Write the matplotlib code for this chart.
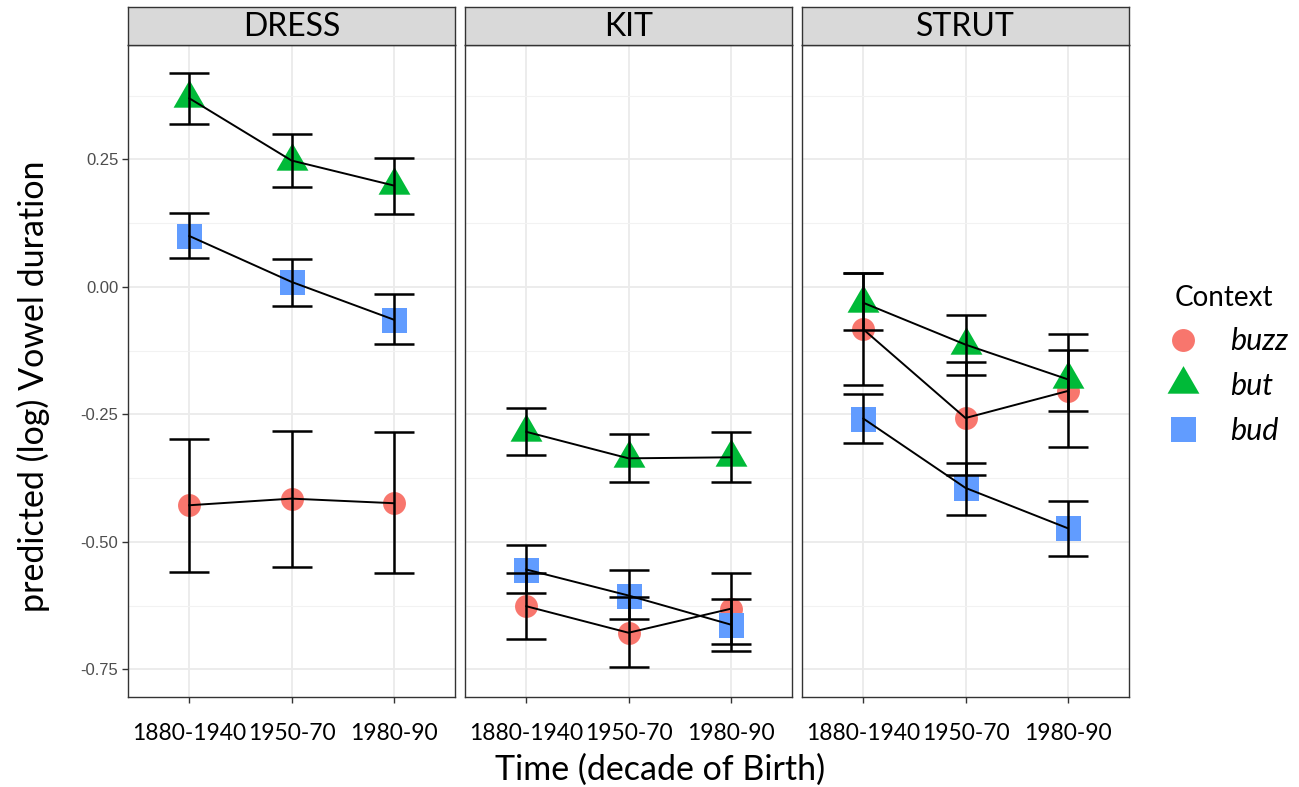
import matplotlib
matplotlib.use("Agg")
import matplotlib.pyplot as plt
from matplotlib.lines import Line2D
from matplotlib.ticker import FixedLocator

plt.rcParams["font.family"] = ["Lato", "DejaVu Sans"]

periods = ["1880-1940", "1950-70", "1980-90"]
vowels = ["DRESS", "KIT", "STRUT"]
contexts = ["buzz", "but", "bud"]

# predicted log duration, lower and upper CI per vowel / context
dress_buzz = [-0.428, -0.415, -0.424]
dress_buzz_lo = [-0.558, -0.549, -0.560]
dress_buzz_hi = [-0.298, -0.283, -0.285]
dress_but = [0.370, 0.248, 0.199]
dress_but_lo = [0.319, 0.197, 0.144]
dress_but_hi = [0.419, 0.300, 0.252]
dress_bud = [0.100, 0.010, -0.064]
dress_bud_lo = [0.057, -0.038, -0.111]
dress_bud_hi = [0.145, 0.055, -0.014]

kit_buzz = [-0.626, -0.678, -0.631]
kit_buzz_lo = [-0.691, -0.745, -0.701]
kit_buzz_hi = [-0.560, -0.608, -0.560]
kit_but = [-0.284, -0.336, -0.334]
kit_but_lo = [-0.330, -0.383, -0.383]
kit_but_hi = [-0.238, -0.288, -0.284]
kit_bud = [-0.554, -0.605, -0.662]
kit_bud_lo = [-0.601, -0.652, -0.714]
kit_bud_hi = [-0.505, -0.554, -0.611]

strut_buzz = [-0.083, -0.257, -0.204]
strut_buzz_lo = [-0.193, -0.368, -0.314]
strut_buzz_hi = [0.027, -0.147, -0.092]
strut_but = [-0.031, -0.113, -0.181]
strut_but_lo = [-0.085, -0.172, -0.243]
strut_but_hi = [0.027, -0.054, -0.124]
strut_bud = [-0.258, -0.394, -0.473]
strut_bud_lo = [-0.306, -0.448, -0.527]
strut_bud_hi = [-0.209, -0.345, -0.419]

panels = {
    "DRESS": {
        "buzz": (dress_buzz, dress_buzz_lo, dress_buzz_hi),
        "but": (dress_but, dress_but_lo, dress_but_hi),
        "bud": (dress_bud, dress_bud_lo, dress_bud_hi),
    },
    "KIT": {
        "buzz": (kit_buzz, kit_buzz_lo, kit_buzz_hi),
        "but": (kit_but, kit_but_lo, kit_but_hi),
        "bud": (kit_bud, kit_bud_lo, kit_bud_hi),
    },
    "STRUT": {
        "buzz": (strut_buzz, strut_buzz_lo, strut_buzz_hi),
        "but": (strut_but, strut_but_lo, strut_but_hi),
        "bud": (strut_bud, strut_bud_lo, strut_bud_hi),
    },
}

yticks = [0.25, 0.0, -0.25, -0.5, -0.75]
ytick_labels = ["0.25", "0.00", "-0.25", "-0.50", "-0.75"]
yminor = [0.375, 0.125, -0.125, -0.375, -0.625]

colors = {"buzz": "#F8766D", "but": "#00BA38", "bud": "#619CFF"}
tri = [(-1.0, -0.577), (1.0, -0.577), (0.0, 1.155), (-1.0, -0.577)]
markers = {"buzz": ("o", 16.5), "but": (tri, 26.5), "bud": ("s", 18)}

W, H = 1299, 787
fig = plt.figure(figsize=(W / 100, H / 100), dpi=100)

lefts = [128, 465, 802]
pw = 327
top, bottom = 45, 697
strip_top = 7

x = [1, 2, 3]
for i, vowel in enumerate(vowels):
    l = lefts[i]
    ax = fig.add_axes([l / W, 1 - bottom / H, pw / W, (bottom - top) / H])
    ax.set_xlim(0.4, 3.6)
    ax.set_ylim(-0.804, 0.4745)
    ax.set_facecolor("white")
    ax.yaxis.set_major_locator(FixedLocator(yticks))
    ax.yaxis.set_minor_locator(FixedLocator(yminor))
    ax.set_xticks(x)
    ax.set_xticklabels(periods, fontsize=16.5, color="black")
    ax.grid(True, which="major", color="#EBEBEB", lw=1.3, zorder=0)
    ax.grid(True, which="minor", axis="y", color="#F2F2F2", lw=0.8, zorder=0)
    ax.tick_params(axis="x", length=4, width=1, color="#333333", pad=15)
    ax.tick_params(axis="y", which="minor", length=0)
    if i == 0:
        ax.set_yticklabels(ytick_labels, fontsize=12, color="#4D4D4D",
                           family="Liberation Sans")
        ax.tick_params(axis="y", which="major", length=4, width=1,
                       color="#333333", pad=3)
    else:
        ax.tick_params(axis="y", which="major", length=0, labelleft=False)
    for s in ax.spines.values():
        s.set_color("#333333")
        s.set_linewidth(1.0)
    ax.set_axisbelow(True)

    data = panels[vowel]
    # points first, then connecting lines, then error bars on top
    for c in contexts:
        m, ms = markers[c]
        ax.plot(x, data[c][0], linestyle="none", marker=m, ms=ms,
                color=colors[c], markeredgewidth=0, zorder=3)
    for c in contexts:
        ax.plot(x, data[c][0], color="black", lw=1.4, zorder=4)
    for c in contexts:
        mid, lo, hi = data[c]
        err = [[m - a for m, a in zip(mid, lo)], [b - m for m, b in zip(mid, hi)]]
        ax.errorbar(x, mid, yerr=err, fmt="none", ecolor="black",
                    elinewidth=1.8, capsize=14.5, capthick=1.8, zorder=5)

    sax = fig.add_axes([l / W, 1 - top / H, pw / W, (top - strip_top) / H])
    sax.set_facecolor("#D9D9D9")
    sax.set_xticks([])
    sax.set_yticks([])
    for s in sax.spines.values():
        s.set_color("#333333")
        s.set_linewidth(1.0)
    sax.text(0.5, 0.47, vowel, ha="center", va="center", fontsize=23,
             transform=sax.transAxes)

fig.text(33 / W, 1 - 386 / H, "predicted (log) Vowel duration", rotation=90,
         ha="center", va="center", fontsize=24.5)
fig.text(660 / W, 1 - 770 / H, "Time (decade of Birth)", ha="center",
         va="center", fontsize=24.5)

handles = []
for c in contexts:
    m, ms = markers[c]
    handles.append(Line2D([], [], linestyle="none", marker=m, ms=ms,
                          color=colors[c], markeredgewidth=0))
leg = fig.legend(handles, contexts, loc="upper left",
                 bbox_to_anchor=(1133 / W, 1 - 257 / H), frameon=False,
                 title="Context", title_fontsize=20,
                 prop={"size": 22, "style": "italic"},
                 handletextpad=0.78, labelspacing=0.55, handlelength=1.5)

fig.savefig("out.png", dpi=100)
